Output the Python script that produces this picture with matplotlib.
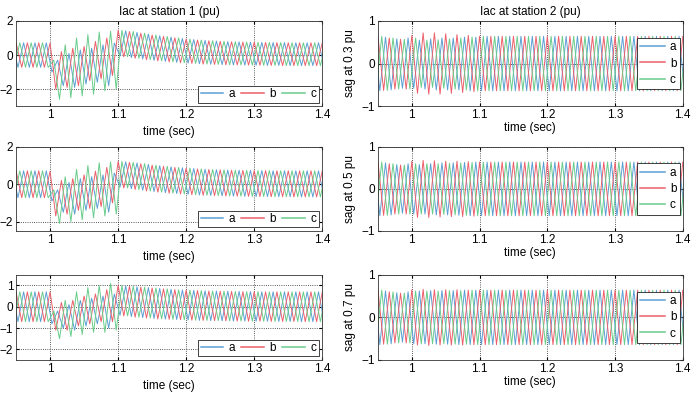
import numpy as np
import matplotlib
matplotlib.use("Agg")
import matplotlib.pyplot as plt


# --- timing of the sampled extrema (60 Hz, one value per half cycle) ---
FIRST_PEAK_T = 0.9445          # first positive peak of phase a (s)
HALF_PERIOD = 1 / 120
PHASE_LAG = {"a": 0.0, "b": -1 / 360, "c": 1 / 360}
HIGH_FIRST = {"a": True, "b": False, "c": False}

# --- station 1, sag at 0.3 pu ---
S1_03_PRE = ([0.72] * 7, [-0.72] * 7)
S1_03_FAULT_A = [-1.0, -0.3, -1.8, 0.1, -1.9, 0.3, -1.7, 0.4, -1.6, 0.6, -1.8, 0.7]
S1_03_FAULT_B = [0.7, -2.0, 0.2, -1.9, 0.4, -1.8, 0.5, -1.5, 0.8, -1.4, 1.0, -1.2]
S1_03_FAULT_C = [-0.3, -2.6, 0.6, -2.5, 1.0, -2.4, 1.2, -2.3, 1.35, -2.1, 1.4, -2.0]
S1_03_POST_UP = [1.45, 1.42, 1.38, 1.33, 1.28, 1.23, 1.18, 1.13, 1.09, 1.05,
                 1.01, 0.97, 0.94, 0.91, 0.88, 0.86, 0.84, 0.82, 0.80, 0.79,
                 0.78, 0.77, 0.76, 0.75, 0.75, 0.74, 0.74, 0.73, 0.73, 0.73,
                 0.72, 0.72, 0.72, 0.72, 0.72, 0.72, 0.72]
S1_03_POST_LO = [-0.05, -0.10, -0.15, -0.19, -0.23, -0.27, -0.31, -0.34, -0.37, -0.40,
                 -0.43, -0.45, -0.47, -0.49, -0.51, -0.53, -0.54, -0.55, -0.56, -0.57,
                 -0.58, -0.58, -0.59, -0.59, -0.60, -0.60, -0.61, -0.61, -0.61, -0.62,
                 -0.62, -0.62, -0.62, -0.62, -0.62, -0.62, -0.62]

# --- station 1, sag at 0.5 pu ---
S1_05_PRE = ([0.72] * 7, [-0.72] * 7)
S1_05_FAULT_A = [-0.9, -0.3, -1.5, 0.1, -1.6, 0.3, -1.4, 0.4, -1.3, 0.5, -1.5, 0.6]
S1_05_FAULT_B = [0.7, -1.7, 0.2, -1.6, 0.3, -1.4, 0.5, -1.3, 0.7, -1.2, 0.9, -1.0]
S1_05_FAULT_C = [-0.3, -2.1, 0.4, -2.0, 0.8, -1.9, 1.0, -1.8, 1.15, -1.7, 1.2, -1.6]
S1_05_POST_UP = [1.22, 1.20, 1.17, 1.14, 1.10, 1.06, 1.02, 0.99, 0.96, 0.93,
                 0.90, 0.88, 0.86, 0.84, 0.82, 0.80, 0.79, 0.78, 0.77, 0.76,
                 0.75, 0.75, 0.74, 0.74, 0.73, 0.73, 0.73, 0.72, 0.72, 0.72,
                 0.72, 0.72, 0.72, 0.72, 0.72, 0.72, 0.72]
S1_05_POST_LO = [-0.15, -0.20, -0.24, -0.28, -0.32, -0.36, -0.39, -0.42, -0.45, -0.48,
                 -0.50, -0.52, -0.54, -0.56, -0.58, -0.59, -0.60, -0.61, -0.62, -0.63,
                 -0.64, -0.64, -0.65, -0.65, -0.66, -0.66, -0.66, -0.67, -0.67, -0.67,
                 -0.67, -0.68, -0.68, -0.68, -0.68, -0.68, -0.68]

# --- station 1, sag at 0.7 pu ---
S1_07_PRE = ([0.70] * 7, [-0.70] * 7)
S1_07_FAULT_A = [-0.8, -0.2, -1.0, 0.1, -1.1, 0.3, -0.9, 0.4, -0.8, 0.5, -1.0, 0.6]
S1_07_FAULT_B = [0.7, -1.1, 0.2, -1.1, 0.3, -0.9, 0.5, -0.8, 0.6, -0.7, 0.8, -0.7]
S1_07_FAULT_C = [-0.2, -1.5, 0.3, -1.4, 0.7, -1.3, 0.9, -1.2, 1.0, -1.2, 1.1, -1.1]
S1_07_POST_UP = [1.00, 0.98, 0.96, 0.94, 0.92, 0.90, 0.88, 0.86, 0.84, 0.82,
                 0.80, 0.79, 0.78, 0.77, 0.76, 0.75, 0.74, 0.74, 0.73, 0.73,
                 0.72, 0.72, 0.71, 0.71, 0.71, 0.70, 0.70, 0.70, 0.70, 0.70,
                 0.70, 0.70, 0.70, 0.70, 0.70, 0.70, 0.70]
S1_07_POST_LO = [-0.40, -0.43, -0.46, -0.49, -0.51, -0.53, -0.55, -0.57, -0.58, -0.59,
                 -0.60, -0.61, -0.62, -0.63, -0.64, -0.64, -0.65, -0.65, -0.66, -0.66,
                 -0.67, -0.67, -0.67, -0.68, -0.68, -0.68, -0.68, -0.69, -0.69, -0.69,
                 -0.69, -0.69, -0.70, -0.70, -0.70, -0.70, -0.70]

# --- station 2 (right column) ---
S2_PRE = ([0.64, 0.64, 0.62, 0.60, 0.58, 0.57, 0.60], [-0.64, -0.64, -0.63, -0.62, -0.60, -0.58, -0.60])
S2_POST = ([0.64] * 37, [-0.64] * 37)
S2_03_FAULT_A = [-0.58, 0.55, -0.60, 0.58, -0.62, 0.60, -0.62, 0.60, -0.62, 0.62, -0.64, 0.62]
S2_03_FAULT_B = [0.66, -0.70, 0.72, -0.72, 0.72, -0.72, 0.70, -0.70, 0.68, -0.68, 0.66, -0.66]
S2_03_FAULT_C = [0.60, -0.56, 0.55, -0.56, 0.56, -0.58, 0.58, -0.60, 0.60, -0.62, 0.62, -0.64]
S2_05_FAULT_A = [-0.60, 0.58, -0.60, 0.60, -0.62, 0.62, -0.62, 0.62, -0.63, 0.63, -0.64, 0.64]
S2_05_FAULT_B = [0.66, -0.68, 0.68, -0.68, 0.67, -0.67, 0.66, -0.66, 0.66, -0.66, 0.65, -0.65]
S2_05_FAULT_C = [0.60, -0.60, 0.60, -0.60, 0.60, -0.61, 0.61, -0.62, 0.62, -0.63, 0.63, -0.64]
S2_07_FAULT_A = [-0.62, 0.62, -0.62, 0.63, -0.63, 0.63, -0.63, 0.63, -0.64, 0.64, -0.64, 0.64]
S2_07_FAULT_B = [0.65, -0.65, 0.66, -0.66, 0.65, -0.65, 0.65, -0.65, 0.65, -0.65, 0.64, -0.64]
S2_07_FAULT_C = [0.62, -0.62, 0.62, -0.62, 0.62, -0.62, 0.63, -0.63, 0.63, -0.63, 0.64, -0.64]

SAG_LABELS = ["sag at 0.3 pu", "sag at 0.5 pu", "sag at 0.7 pu"]
LEFT_YLIMS = [(-3, 2), (-2.5, 2), (-2.5, 1.5)]
LEFT_YTICKS = [[-2, 0, 2], [-2, 0, 2], [-2, -1, 0, 1]]
XTICKS = [1, 1.1, 1.2, 1.3, 1.4]
XTICK_LABELS = ["1", "1.1", "1.2", "1.3", "1.4"]

COLORS = {"a": "#5c9fd4", "b": "#ec5f6b", "c": "#68cc8a"}

# axes boxes in figure fractions (696 x 396 px)
COL_X = [0.023, 0.543]
COL_W = [0.440, 0.438]
ROW_Y = [0.732, 0.417, 0.091]
ROW_H = [0.215, 0.212, 0.215]


def extrema(high_first, pre, fault, post):
    vals = []
    k = 0
    for up, lo in zip(*pre):
        vals.append(up if (k % 2 == 0) == high_first else lo)
        k += 1
    for v in fault:
        vals.append(v)
        k += 1
    for up, lo in zip(*post):
        vals.append(up if (k % 2 == 0) == high_first else lo)
        k += 1
    return vals


def draw_phases(ax, pre, faults, post):
    for phase, fault in zip(["a", "b", "c"], faults):
        v = extrema(HIGH_FIRST[phase], pre, fault, post)
        t = FIRST_PEAK_T + PHASE_LAG[phase] + np.arange(len(v)) * HALF_PERIOD
        ax.plot(t, v, color=COLORS[phase], linewidth=0.7, label=phase)


def style_axes(ax):
    ax.set_xlim(0.95, 1.4)
    ax.set_xticks(XTICKS)
    ax.set_xticklabels(XTICK_LABELS)
    ax.grid(True, linestyle=":", color="#222222", linewidth=0.6)
    ax.tick_params(direction="in", length=2.5, pad=2, top=True, right=True)
    for sp in ax.spines.values():
        sp.set_linewidth(0.6)
        sp.set_color("#333333")


def style_legend(leg):
    leg.get_frame().set_linewidth(0.6)
    for line in leg.get_lines():
        line.set_linewidth(1.1)


plt.rcParams.update({
    "font.family": ["Liberation Sans", "DejaVu Sans"],
    "font.size": 8.5,
    "axes.titlesize": 8.5,
    "axes.labelsize": 8.5,
    "xtick.labelsize": 8.5,
    "ytick.labelsize": 8.5,
    "legend.fontsize": 8.5,
})

fig = plt.figure(figsize=(6.96, 3.96), dpi=100)

left_data = [
    (S1_03_PRE, [S1_03_FAULT_A, S1_03_FAULT_B, S1_03_FAULT_C], (S1_03_POST_UP, S1_03_POST_LO)),
    (S1_05_PRE, [S1_05_FAULT_A, S1_05_FAULT_B, S1_05_FAULT_C], (S1_05_POST_UP, S1_05_POST_LO)),
    (S1_07_PRE, [S1_07_FAULT_A, S1_07_FAULT_B, S1_07_FAULT_C], (S1_07_POST_UP, S1_07_POST_LO)),
]
right_faults = [
    [S2_03_FAULT_A, S2_03_FAULT_B, S2_03_FAULT_C],
    [S2_05_FAULT_A, S2_05_FAULT_B, S2_05_FAULT_C],
    [S2_07_FAULT_A, S2_07_FAULT_B, S2_07_FAULT_C],
]

for row in range(3):
    # station 1
    ax = fig.add_axes([COL_X[0], ROW_Y[row], COL_W[0], ROW_H[row]])
    pre, faults, post = left_data[row]
    draw_phases(ax, pre, faults, post)
    style_axes(ax)
    ax.set_xlabel("time (sec)", labelpad=3.5)
    ax.set_ylim(*LEFT_YLIMS[row])
    ax.set_yticks(LEFT_YTICKS[row])
    leg = ax.legend(ncol=3, loc="lower right", fancybox=False, framealpha=1,
                    edgecolor="#222222", handlelength=1.9, handletextpad=0.5,
                    columnspacing=0.5, borderpad=0.2, borderaxespad=0.3)
    style_legend(leg)
    if row == 0:
        ax.set_title("Iac at station 1 (pu)", pad=4)

    # station 2
    ax = fig.add_axes([COL_X[1], ROW_Y[row], COL_W[1], ROW_H[row]])
    draw_phases(ax, S2_PRE, right_faults[row], S2_POST)
    style_axes(ax)
    ax.set_xlabel("time (sec)", labelpad=1)
    ax.set_ylim(-1, 1)
    ax.set_yticks([-1, 0, 1])
    ax.set_ylabel(SAG_LABELS[row], labelpad=4)
    leg = ax.legend(loc="center right", fancybox=False, framealpha=1,
                    edgecolor="#222222", handlelength=2.1, handletextpad=0.4,
                    labelspacing=0.35, borderpad=0.3, borderaxespad=0.25)
    style_legend(leg)
    if row == 0:
        ax.set_title("Iac at station 2 (pu)", pad=4)

fig.savefig("out.png", dpi=100, facecolor="white")
